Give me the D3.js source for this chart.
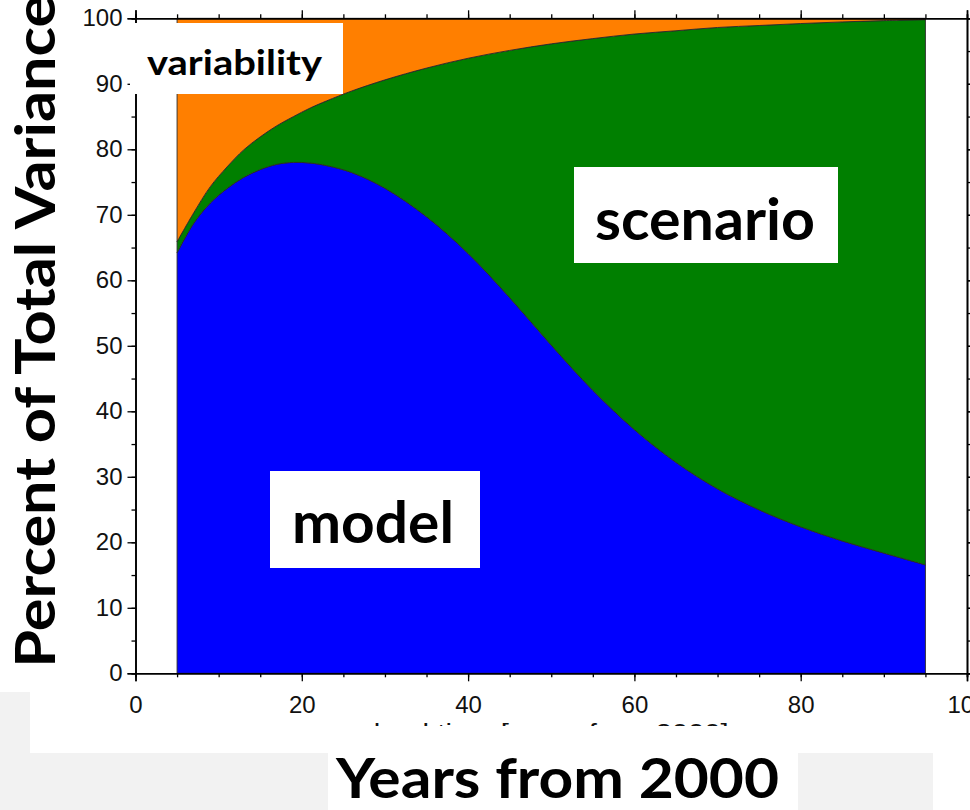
<!DOCTYPE html>
<html>
<head>
<meta charset="utf-8">
<script src="https://cdn.jsdelivr.net/npm/d3@7"></script>
<style>
  html, body { margin: 0; padding: 0; background: #ffffff; }
  svg { display: block; }
</style>
</head>
<body>
<svg id="chart" width="970" height="810"></svg>
<script>
// ---- data ----
const years       = [5, 7, 9, 11, 13, 15, 17, 19, 21, 23, 26, 30, 35, 40, 45, 50, 55, 60, 65, 70, 75, 80, 85, 90, 95];
const model       = [64.2, 68.7, 71.8, 74.0, 75.7, 76.9, 77.7, 78.0, 77.9, 77.5, 76.45, 74.05, 69.7, 64.1, 57.35, 50.1, 43.2, 37.2, 32.2, 28.15, 24.95, 22.35, 20.2, 18.35, 16.55];
const scenario    = [1.7, 1.6, 2.5, 3.3, 4.2, 5.0, 5.9, 7.0, 8.4, 9.9, 12.45, 16.55, 22.7, 29.8, 37.75, 46.0, 53.7, 60.4, 65.9, 70.45, 73.95, 76.85, 79.25, 81.3, 83.25];
const variability = [34.1, 29.7, 25.7, 22.7, 20.1, 18.1, 16.4, 15.0, 13.7, 12.6, 11.1, 9.4, 7.6, 6.1, 4.9, 3.9, 3.1, 2.4, 1.9, 1.4, 1.1, 0.8, 0.55, 0.35, 0.2];
const seriesKeys  = ["model", "scenario", "variability"];
const seriesColors = ["#0000ff", "#007f00", "#ff7f00"];
const xTickValues = [0, 20, 40, 60, 80, 100];
const yTickValues = [0, 10, 20, 30, 40, 50, 60, 70, 80, 90, 100];
const minorTickValues = [0, 5, 10, 15, 20, 25, 30, 35, 40, 45, 50, 55, 60, 65, 70, 75, 80, 85, 90, 95, 100];
const yTitle = "Percent of Total Variance";
const xTitle = "Years from 2000";
const hiddenXLabel = "lead time [years from 2000]";

// ---- build table ----
const table = years.map((yr, i) => ({ year: yr, model: model[i], scenario: scenario[i], variability: variability[i] }));

const svg = d3.select("#chart");

// background panels
svg.append("rect").attr("x", 0).attr("y", 0).attr("width", 970).attr("height", 810).attr("fill", "#ffffff");
svg.append("rect").attr("x", 0).attr("y", 692).attr("width", 30).attr("height", 118).attr("fill", "#f2f2f2");
svg.append("rect").attr("x", 0).attr("y", 753).attr("width", 328).attr("height", 57).attr("fill", "#f2f2f2");
svg.append("rect").attr("x", 798).attr("y", 753).attr("width", 135).attr("height", 57).attr("fill", "#f2f2f2");

const x = d3.scaleLinear().domain([0, 100]).range([135.5, 967]);
const y = d3.scaleLinear().domain([0, 100]).range([673.3, 18.3]);

// stacked areas
const stack = d3.stack().keys(seriesKeys);
const layers = stack(table);
const area = d3.area()
  .x(d => x(d.data.year))
  .y0(d => y(d[0]))
  .y1(d => y(d[1]))
  .curve(d3.curveCatmullRom.alpha(0.5));

svg.append("g").selectAll("path")
  .data(layers)
  .join("path")
  .attr("d", area)
  .attr("fill", (d, i) => seriesColors[i])
  .attr("stroke", "#2a2a2a")
  .attr("stroke-width", 0.9)
  .attr("stroke-linejoin", "round");

// axes
const tickFont = "'Liberation Sans', Arial, Helvetica, sans-serif";
function styleAxis(g) {
  g.select(".domain").attr("stroke", "#000").attr("stroke-width", 1.6);
  g.selectAll(".tick line").attr("stroke", "#000").attr("stroke-width", 1.3);
  g.selectAll("text").attr("fill", "#111").style("font-family", tickFont).style("font-size", "24px");
}

// bottom minor + major
svg.append("g").attr("transform", `translate(0,${y(0)})`)
  .call(d3.axisBottom(x).tickValues(minorTickValues).tickSize(4).tickFormat(""))
  .call(styleAxis);
svg.append("g").attr("transform", `translate(0,${y(0)})`)
  .call(d3.axisBottom(x).tickValues(xTickValues).tickSize(8).tickPadding(15).tickFormat(d3.format("d")))
  .call(styleAxis);

// top (no labels)
svg.append("g").attr("transform", `translate(0,${y(100)})`)
  .call(d3.axisTop(x).tickValues(minorTickValues).tickSize(4).tickFormat(""))
  .call(styleAxis);
svg.append("g").attr("transform", `translate(0,${y(100)})`)
  .call(d3.axisTop(x).tickValues(xTickValues).tickSize(8).tickFormat(""))
  .call(styleAxis);

// left
svg.append("g").attr("transform", `translate(${x(0)},0)`)
  .call(d3.axisLeft(y).tickValues(minorTickValues).tickSize(4).tickFormat(""))
  .call(styleAxis);
svg.append("g").attr("transform", `translate(${x(0)},0)`)
  .call(d3.axisLeft(y).tickValues(yTickValues).tickSize(8).tickPadding(5).tickFormat(d3.format("d")))
  .call(styleAxis);

// right (no labels)
svg.append("g").attr("transform", `translate(${x(100)},0)`)
  .call(d3.axisRight(y).tickValues(minorTickValues).tickSize(4).tickFormat(""))
  .call(styleAxis);
svg.append("g").attr("transform", `translate(${x(100)},0)`)
  .call(d3.axisRight(y).tickValues(yTickValues).tickSize(8).tickFormat(""))
  .call(styleAxis);

// original axis label, mostly covered
svg.append("text")
  .attr("x", (x(0) + x(100)) / 2)
  .attr("y", 741)
  .attr("text-anchor", "middle")
  .attr("textLength", 355)
  .attr("lengthAdjust", "spacingAndGlyphs")
  .style("font-family", tickFont)
  .style("font-size", "23px")
  .attr("fill", "#111")
  .text(hiddenXLabel);
svg.append("rect").attr("x", 30).attr("y", 726).attr("width", 905).attr("height", 27).attr("fill", "#ffffff");

// annotation boxes
const boldFont = "Lato, 'Open Sans', 'Noto Sans', sans-serif";
function labelBox(rx, ry, rw, rh, tx, ty, tlen, size, txt) {
  svg.append("rect").attr("x", rx).attr("y", ry).attr("width", rw).attr("height", rh).attr("fill", "#ffffff");
  svg.append("text")
    .attr("x", tx).attr("y", ty)
    .attr("textLength", tlen).attr("lengthAdjust", "spacingAndGlyphs")
    .style("font-family", boldFont).style("font-weight", "bold").style("font-size", size + "px")
    .attr("fill", "#000")
    .text(txt);
}
labelBox(130, 23, 213, 71, 147, 75, 175, 34, seriesKeys[2]);
labelBox(574, 167, 264, 96, 595, 240, 220, 58, seriesKeys[1]);
labelBox(270, 471, 210, 97, 292, 543, 162, 58, seriesKeys[0]);

// titles
svg.append("text")
  .attr("transform", "translate(55,667.7) rotate(-90)")
  .attr("x", 0).attr("y", 0)
  .attr("textLength", 673).attr("lengthAdjust", "spacingAndGlyphs")
  .style("font-family", boldFont).style("font-weight", "bold").style("font-size", "56px")
  .attr("fill", "#000")
  .text(yTitle);

svg.append("text")
  .attr("x", 336).attr("y", 798)
  .attr("textLength", 443).attr("lengthAdjust", "spacingAndGlyphs")
  .style("font-family", boldFont).style("font-weight", "bold").style("font-size", "56px")
  .attr("fill", "#000")
  .text(xTitle);
</script>
</body>
</html>
